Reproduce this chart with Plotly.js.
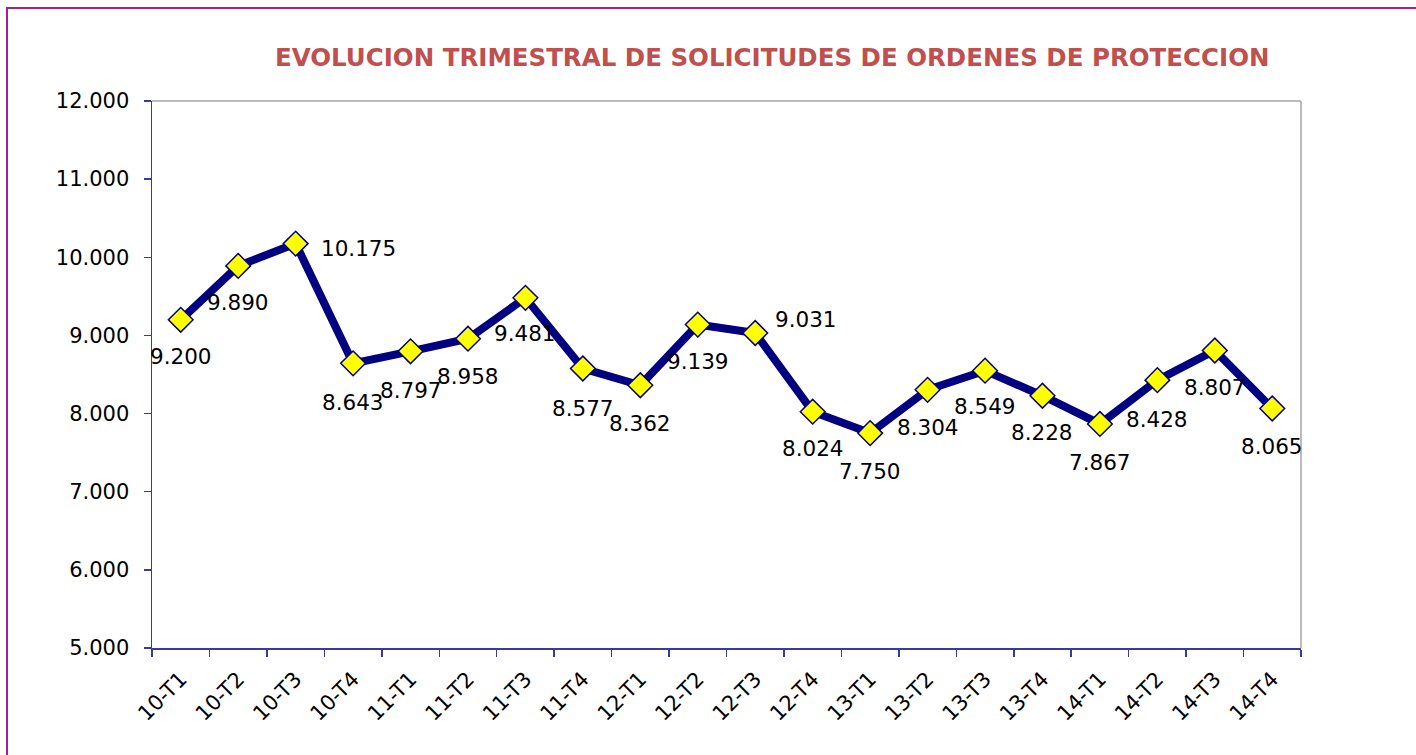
<!DOCTYPE html>
<html>
<head>
<meta charset="utf-8">
<script src="https://cdn.plot.ly/plotly-3.0.1.min.js"></script>
<style>
html,body{margin:0;padding:0;background:#fff;overflow:hidden;width:1416px;height:755px;}
#frame{position:absolute;left:6px;top:7px;width:1500px;height:900px;border:2px solid #a0209c;box-sizing:border-box;}
#chart{position:absolute;left:0;top:0;width:1416px;height:755px;}
</style>
</head>
<body>
<div id="frame"></div>
<div id="chart"></div>
<script>
// Data
const quarters = ["10-T1","10-T2","10-T3","10-T4","11-T1","11-T2","11-T3","11-T4",
  "12-T1","12-T2","12-T3","12-T4","13-T1","13-T2","13-T3","13-T4",
  "14-T1","14-T2","14-T3","14-T4"];
const solicitudes = [9200,9890,10175,8643,8797,8958,9481,8577,
  8362,9139,9031,8024,7750,8304,8549,8228,
  7867,8428,8807,8065];
const yTicks = [5000,6000,7000,8000,9000,10000,11000,12000];

// Label placement (layout only): pixel shifts of each data label
const labelShiftX = [0,0,63,0,0,0,0,0,0,0,51,0,0,0,0,0,0,0,0,0];
const labelShiftY = [-37,-37,-5,-39,-39,-38,-36,-40,-38,-37,14,-37,-38,-38,-36,-37,-39,-39,-37,-38];

function fmt(v){ return (v/1000).toFixed(3); }

const annotations = quarters.map((q,i)=>({
  x:q, y:solicitudes[i], xref:'x', yref:'y', text:fmt(solicitudes[i]),
  showarrow:false, xshift:labelShiftX[i], yshift:labelShiftY[i],
  font:{family:'DejaVu Sans, Verdana, sans-serif', size:21.5, color:'#000'}
}));
annotations.push({
  xref:'paper', yref:'paper', x:0.54, y:1, yshift:44, xanchor:'center', yanchor:'middle',
  showarrow:false, text:'<b>EVOLUCION TRIMESTRAL DE SOLICITUDES DE ORDENES DE PROTECCION</b>',
  font:{family:'DejaVu Sans, Verdana, sans-serif', size:24.5, color:'#c0504d'}
});

const trace = {
  x: quarters, y: solicitudes, type:'scatter', mode:'lines+markers',
  line:{color:'#000080', width:8},
  marker:{symbol:'diamond', size:19, color:'#ffff00', line:{color:'#000080', width:1.5}},
  hoverinfo:'x+y'
};

const layout = {
  width:1416, height:755,
  margin:{l:152, r:115, t:101, b:107},
  paper_bgcolor:'rgba(0,0,0,0)', plot_bgcolor:'#fff',
  separators:',.',
  showlegend:false,
  font:{family:'DejaVu Sans, Verdana, sans-serif', size:21, color:'#000'},
  xaxis:{
    type:'category', tickmode:'array', tickvals:quarters, ticktext:quarters,
    range:[-0.5, quarters.length-0.5],
    tickson:'boundaries', ticks:'outside', ticklen:7, tickcolor:'#3a3a9c', tickwidth:1.5,
    showline:true, linecolor:'#3a3a9c', linewidth:1.5, showgrid:false, zeroline:false,
    tickangle:-45, tickfont:{size:21}, ticklabelstandoff:9
  },
  yaxis:{
    range:[5000,12000], tickmode:'array', tickvals:yTicks, tickformat:',.0f',
    ticks:'outside', ticklen:7, tickcolor:'#3a3a9c', tickwidth:1.5,
    showline:true, linecolor:'#3a3a9c', linewidth:1.5, showgrid:false, zeroline:false,
    tickfont:{size:21}, ticklabelstandoff:10
  },
  shapes:[
    {type:'line', xref:'paper', yref:'paper', x0:0, x1:1, y0:1, y1:1, line:{color:'#a6a6a6', width:1.5}, layer:'below'},
    {type:'line', xref:'paper', yref:'paper', x0:1, x1:1, y0:0, y1:1, line:{color:'#a6a6a6', width:1.5}, layer:'below'}
  ],
  annotations: annotations
};

Plotly.newPlot('chart', [trace], layout, {displayModeBar:false, staticPlot:true});
</script>
</body>
</html>
